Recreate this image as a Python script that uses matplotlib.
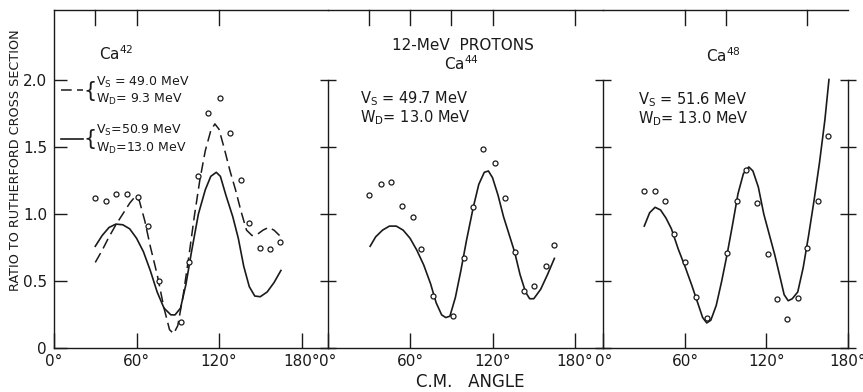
"""Ratio to Rutherford cross section for 12-MeV protons on Ca42, Ca44 and Ca48."""

import matplotlib

matplotlib.use("Agg")
import matplotlib.pyplot as plt

INK = "#1a1a1a"

# Ca42 measured points
CA42_ANGLE = [30, 38, 45, 53, 61, 68, 76, 92, 98, 105, 112, 121, 128, 136, 142, 150, 157, 164]
CA42_RATIO = [1.12, 1.10, 1.15, 1.15, 1.13, 0.91, 0.50, 0.20, 0.64, 1.28, 1.75, 1.86, 1.60, 1.25, 0.93, 0.75, 0.74, 0.79]

# Ca42 fit, Vs = 50.9 MeV, WD = 13.0 MeV (solid)
CA42_FIT_A_ANGLE = [30, 35, 40, 45, 50, 55, 60, 65, 70, 75, 80, 85, 88, 92, 96, 100, 105, 110,
                    114, 118, 121, 125, 130, 134, 138, 142, 146, 150, 155, 160, 165]
CA42_FIT_A_RATIO = [0.76, 0.84, 0.90, 0.925, 0.92, 0.89, 0.82, 0.72, 0.58, 0.42, 0.30, 0.25, 0.25,
                    0.30, 0.48, 0.72, 1.00, 1.18, 1.28, 1.31, 1.28, 1.14, 0.98, 0.82, 0.61, 0.46,
                    0.39, 0.385, 0.42, 0.49, 0.58]

# Ca42 fit, Vs = 49.0 MeV, WD = 9.3 MeV (dashed)
CA42_FIT_B_ANGLE = [30, 35, 40, 45, 50, 55, 59, 62, 66, 70, 75, 80, 84, 87, 90, 94, 98, 102, 106,
                    110, 114, 117, 120, 124, 128, 132, 136, 140, 144, 148, 152, 156, 160, 164]
CA42_FIT_B_RATIO = [0.64, 0.73, 0.83, 0.92, 1.00, 1.08, 1.13, 1.10, 0.95, 0.76, 0.55, 0.30, 0.14,
                    0.11, 0.17, 0.40, 0.68, 0.98, 1.25, 1.47, 1.62, 1.67, 1.63, 1.48, 1.32, 1.18,
                    1.02, 0.88, 0.84, 0.85, 0.88, 0.90, 0.88, 0.84]

# Ca44 measured points and fit
CA44_ANGLE = [30, 39, 46, 54, 62, 68, 77, 91, 99, 106, 113, 122, 129, 136, 143, 150, 159, 165]
CA44_RATIO = [1.14, 1.22, 1.24, 1.06, 0.98, 0.74, 0.39, 0.245, 0.67, 1.05, 1.48, 1.38, 1.12, 0.715,
              0.43, 0.465, 0.61, 0.77]
CA44_FIT_ANGLE = [31, 35, 40, 45, 50, 55, 60, 65, 70, 75, 79, 83, 86, 89, 93, 97, 101, 106, 110,
                  114, 117, 120, 124, 128, 132, 136, 140, 144, 147, 150, 155, 160, 165]
CA44_FIT_RATIO = [0.76, 0.83, 0.88, 0.91, 0.91, 0.88, 0.82, 0.73, 0.62, 0.48, 0.34, 0.25, 0.23,
                  0.24, 0.38, 0.58, 0.80, 1.05, 1.22, 1.31, 1.32, 1.27, 1.14, 0.98, 0.85, 0.72,
                  0.55, 0.42, 0.37, 0.37, 0.44, 0.55, 0.67]

# Ca48 measured points and fit
CA48_ANGLE = [30, 38, 45, 52, 60, 68, 76, 91, 98, 105, 113, 121, 128, 135, 143, 150, 158, 165]
CA48_RATIO = [1.17, 1.17, 1.10, 0.85, 0.645, 0.385, 0.23, 0.71, 1.10, 1.33, 1.085, 0.70, 0.37,
              0.22, 0.375, 0.745, 1.10, 1.58]
CA48_FIT_ANGLE = [30, 34, 38, 42, 46, 50, 55, 60, 65, 70, 73, 76, 79, 83, 87, 91, 95, 99, 103,
                  107, 110, 114, 118, 122, 126, 130, 133, 136, 139, 143, 147, 151, 155, 159, 163, 166]
CA48_FIT_RATIO = [0.91, 1.01, 1.05, 1.03, 0.97, 0.89, 0.74, 0.61, 0.47, 0.32, 0.23, 0.19, 0.21,
                  0.32, 0.50, 0.70, 0.92, 1.15, 1.30, 1.35, 1.32, 1.20, 1.00, 0.85, 0.70, 0.53,
                  0.40, 0.355, 0.37, 0.42, 0.60, 0.84, 1.10, 1.38, 1.70, 2.00]

ANGLE_TICKS = [0, 60, 120, 180]
ANGLE_LABELS = ["0\u00b0", "60\u00b0", "120\u00b0", "180\u00b0"]
RATIO_TICKS = [0, 0.5, 1.0, 1.5, 2.0]
RATIO_LABELS = ["0", "0.5", "1.0", "1.5", "2.0"]

YMAX = 2.517
FONT = 11


def style_panel(ax, xmax, top_ticks, first=False, last=False):
    ax.set_xlim(0, xmax)
    ax.set_ylim(0, YMAX)
    ax.patch.set_visible(False)
    for side in ("left", "right", "top", "bottom"):
        ax.spines[side].set_color(INK)
        ax.spines[side].set_linewidth(1.0)
    ax.spines["right"].set_bounds(0, 2.0)
    if not first:
        ax.spines["left"].set_visible(False)
    ax.set_xticks(ANGLE_TICKS)
    ax.set_xticklabels(ANGLE_LABELS, fontsize=FONT, color=INK)
    ax.tick_params(axis="x", direction="in", length=11, width=1.0, color=INK, pad=4)
    ax.set_yticks(RATIO_TICKS)
    ax.set_yticklabels(RATIO_LABELS, fontsize=FONT, color=INK)
    if first:
        # ticks of the outer left axis point into the panel
        ax.tick_params(axis="y", direction="in", length=9, width=1.0, color=INK,
                       left=True, labelleft=True, right=False, labelright=False, pad=5)
    else:
        # ticks on the dividers cross the line
        ax.tick_params(axis="y", direction="inout", length=11, width=1.0, color=INK,
                       left=True, labelleft=False, right=last, labelright=False)
    # ticks hanging from the top border
    for angle in top_ticks:
        ax.plot([angle, angle], [YMAX, YMAX - 0.11], color=INK, lw=1.0, clip_on=False)


def plot_points(ax, angle, ratio):
    ax.plot(angle, ratio, linestyle="none", marker="o", markersize=3.6,
            markerfacecolor="white", markeredgecolor=INK, markeredgewidth=0.9)


def main():
    plt.rcParams["mathtext.default"] = "regular"
    fig = plt.figure(figsize=(8.63, 3.92), dpi=100)
    bottom, height = 0.111, 0.8635
    ax1 = fig.add_axes([0.0626, bottom, 0.3169, height])
    ax2 = fig.add_axes([0.3795, bottom, 0.3198, height])
    ax3 = fig.add_axes([0.6993, bottom, 0.2833, height])

    style_panel(ax1, 198.9, [30, 60, 120], first=True)
    style_panel(ax2, 200.7, [30, 60, 90, 120, 180])
    style_panel(ax3, 180, [60, 90, 150], last=True)

    # Ca42
    ax1.plot(CA42_FIT_A_ANGLE, CA42_FIT_A_RATIO, color=INK, lw=1.2)
    ax1.plot(CA42_FIT_B_ANGLE, CA42_FIT_B_RATIO, color=INK, lw=1.1, dashes=(7, 3.5))
    plot_points(ax1, CA42_ANGLE, CA42_RATIO)
    ax1.text(45.6, 2.19, "Ca$^{42}$", ha="center", va="center", fontsize=FONT, color=INK)
    ax1.plot([5.0, 21.0], [1.92, 1.92], color=INK, lw=1.1, dashes=(7, 3.5))
    ax1.plot([5.0, 21.0], [1.555, 1.555], color=INK, lw=1.2)
    ax1.text(21.3, 1.915, "{", ha="left", va="center", fontsize=15, color=INK)
    ax1.text(21.3, 1.56, "{", ha="left", va="center", fontsize=15, color=INK)
    legend_font = FONT - 2
    ax1.text(30.5, 1.975, "V$_S$ = 49.0 MeV", ha="left", va="center", fontsize=legend_font, color=INK)
    ax1.text(30.5, 1.85, "W$_D$= 9.3 MeV", ha="left", va="center", fontsize=legend_font, color=INK)
    ax1.text(30.5, 1.625, "V$_S$=50.9 MeV", ha="left", va="center", fontsize=legend_font, color=INK)
    ax1.text(30.5, 1.49, "W$_D$=13.0 MeV", ha="left", va="center", fontsize=legend_font, color=INK)

    # Ca44
    ax2.plot(CA44_FIT_ANGLE, CA44_FIT_RATIO, color=INK, lw=1.2)
    plot_points(ax2, CA44_ANGLE, CA44_RATIO)
    ax2.text(98.5, 2.25, "12-MeV  PROTONS", ha="center", va="center", fontsize=FONT, color=INK)
    ax2.text(97.6, 2.12, "Ca$^{44}$", ha="center", va="center", fontsize=FONT, color=INK)
    ax2.text(23.6, 1.86, "V$_S$ = 49.7 MeV", ha="left", va="center", fontsize=FONT - 0.5, color=INK)
    ax2.text(23.6, 1.72, "W$_D$= 13.0 MeV", ha="left", va="center", fontsize=FONT - 0.5, color=INK)

    # Ca48
    ax3.plot(CA48_FIT_ANGLE, CA48_FIT_RATIO, color=INK, lw=1.2)
    plot_points(ax3, CA48_ANGLE, CA48_RATIO)
    ax3.text(88, 2.18, "Ca$^{48}$", ha="center", va="center", fontsize=FONT, color=INK)
    ax3.text(25.6, 1.85, "V$_S$ = 51.6 MeV", ha="left", va="center", fontsize=FONT - 0.5, color=INK)
    ax3.text(25.6, 1.71, "W$_D$= 13.0 MeV", ha="left", va="center", fontsize=FONT - 0.5, color=INK)

    fig.text(0.0174, 0.592, "RATIO TO RUTHERFORD CROSS SECTION", rotation=90,
             ha="center", va="center", fontsize=9.2, color=INK)
    fig.text(0.545, 0.025, "C.M.   ANGLE", ha="center", va="center", fontsize=12, color=INK)

    fig.savefig("out.png", dpi=100, facecolor="white")
    plt.close(fig)


if __name__ == "__main__":
    main()
